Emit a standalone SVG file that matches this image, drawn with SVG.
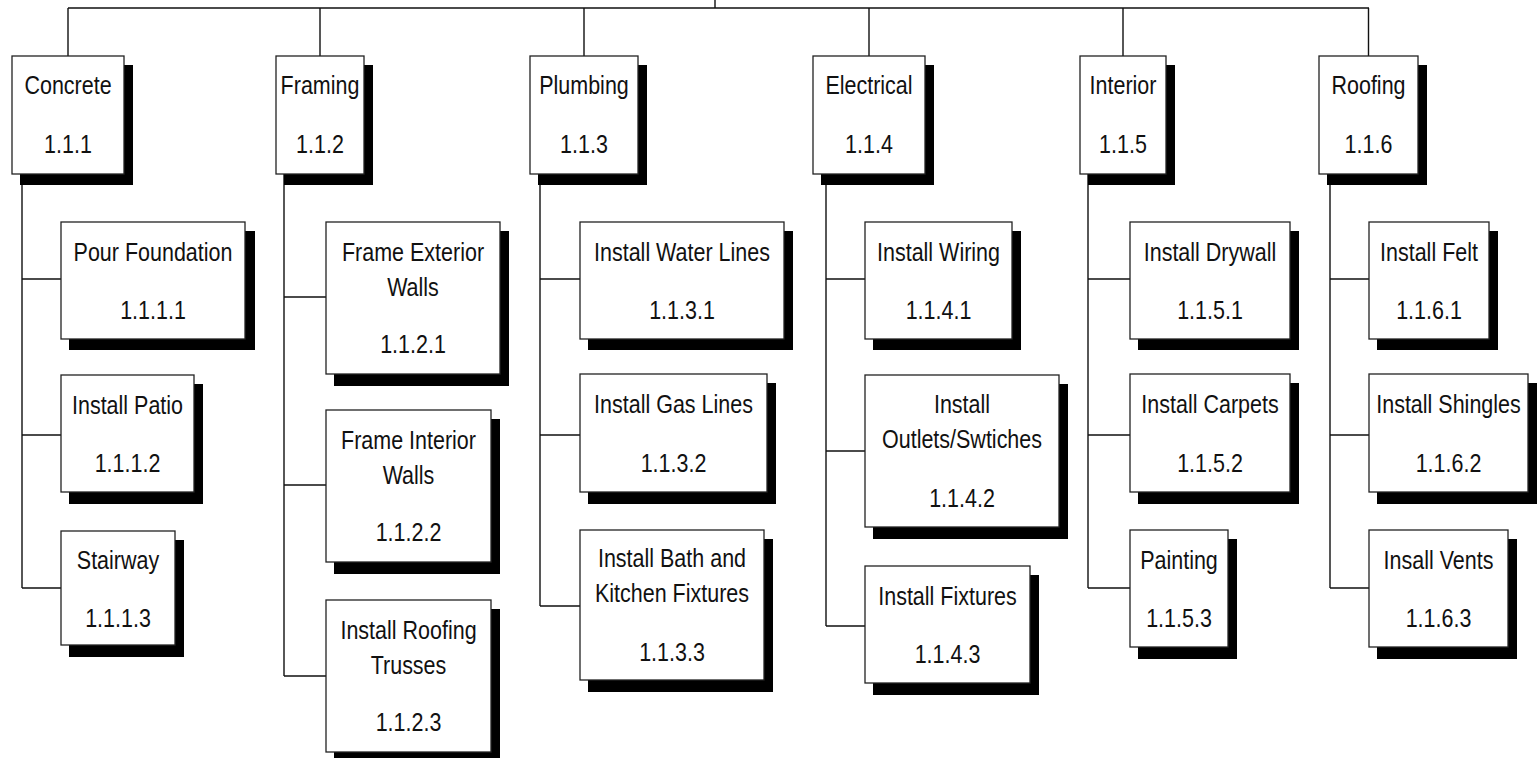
<svg xmlns="http://www.w3.org/2000/svg" width="1537" height="758" viewBox="0 0 1537 758">
<style>
.c{fill:none;stroke:#111;stroke-width:1.4}
.s{fill:#000}
.b{fill:#fff;stroke:#222;stroke-width:1.3}
text{font-family:"Liberation Sans",Arial,sans-serif;font-size:21.5px;fill:#111;text-anchor:middle}
</style>
<rect width="1537" height="758" fill="#fff"/>
<g id="connectors">
<path class="c" d="M715 0V8M68 8H1369M68 8V56M320 8V56M584 8V56M869 8V56M1123 8V56M1368.5 8V56"/>
<path class="c" d="M22 174V588M22 279H61M22 435H61M22 588H61"/>
<path class="c" d="M284 174V676M284 297H326M284 485H326M284 676H326"/>
<path class="c" d="M540 174V606M540 279H580M540 435H580M540 606H580"/>
<path class="c" d="M826 174V626M826 279H865M826 451H865M826 626H865"/>
<path class="c" d="M1088 174V588M1088 279H1130M1088 435H1130M1088 588H1130"/>
<path class="c" d="M1330 174V588M1330 279H1369M1330 435H1369M1330 588H1369"/>
</g>
<g id="n111"><rect class="s" x="20" y="65" width="113" height="120"/><rect class="b" x="12" y="56" width="112" height="118"/><text transform="translate(68 94) scale(1 1.18)">Concrete</text><text transform="translate(68 153) scale(1 1.18)">1.1.1</text></g>
<g id="n112"><rect class="s" x="284" y="65" width="89" height="120"/><rect class="b" x="276" y="56" width="88" height="118"/><text transform="translate(320 94) scale(1 1.18)">Framing</text><text transform="translate(320 153) scale(1 1.18)">1.1.2</text></g>
<g id="n113"><rect class="s" x="538" y="65" width="109" height="120"/><rect class="b" x="530" y="56" width="108" height="118"/><text transform="translate(584 94) scale(1 1.18)">Plumbing</text><text transform="translate(584 153) scale(1 1.18)">1.1.3</text></g>
<g id="n114"><rect class="s" x="821" y="65" width="113" height="120"/><rect class="b" x="813" y="56" width="112" height="118"/><text transform="translate(869 94) scale(1 1.18)">Electrical</text><text transform="translate(869 153) scale(1 1.18)">1.1.4</text></g>
<g id="n115"><rect class="s" x="1088" y="65" width="87" height="120"/><rect class="b" x="1080" y="56" width="86" height="118"/><text transform="translate(1123 94) scale(1 1.18)">Interior</text><text transform="translate(1123 153) scale(1 1.18)">1.1.5</text></g>
<g id="n116"><rect class="s" x="1327" y="65" width="100" height="120"/><rect class="b" x="1319" y="56" width="99" height="118"/><text transform="translate(1368.5 94) scale(1 1.18)">Roofing</text><text transform="translate(1368.5 153) scale(1 1.18)">1.1.6</text></g>

<g id="n1111"><rect class="s" x="69" y="231" width="186" height="119"/><rect class="b" x="61" y="222" width="184" height="117"/><text transform="translate(153 261) scale(1 1.18)">Pour Foundation</text><text transform="translate(153 319) scale(1 1.18)">1.1.1.1</text></g>
<g id="n1112"><rect class="s" x="69" y="384" width="134" height="120"/><rect class="b" x="61" y="375" width="133" height="117"/><text transform="translate(127.5 414) scale(1 1.18)">Install Patio</text><text transform="translate(127.5 472) scale(1 1.18)">1.1.1.2</text></g>
<g id="n1113"><rect class="s" x="69" y="540" width="115" height="117"/><rect class="b" x="61" y="531" width="114" height="114"/><text transform="translate(118 569) scale(1 1.18)">Stairway</text><text transform="translate(118 627) scale(1 1.18)">1.1.1.3</text></g>

<g id="n1121"><rect class="s" x="334" y="231" width="175" height="155"/><rect class="b" x="326" y="222" width="174" height="152"/><text transform="translate(413 261) scale(1 1.18)">Frame Exterior</text><text transform="translate(413 296) scale(1 1.18)">Walls</text><text transform="translate(413 353) scale(1 1.18)">1.1.2.1</text></g>
<g id="n1122"><rect class="s" x="334" y="419" width="166" height="155"/><rect class="b" x="326" y="410" width="165" height="152"/><text transform="translate(408.5 449) scale(1 1.18)">Frame Interior</text><text transform="translate(408.5 484) scale(1 1.18)">Walls</text><text transform="translate(408.5 541) scale(1 1.18)">1.1.2.2</text></g>
<g id="n1123"><rect class="s" x="334" y="609" width="166" height="155"/><rect class="b" x="326" y="600" width="165" height="152"/><text transform="translate(408.5 639) scale(1 1.18)">Install Roofing</text><text transform="translate(408.5 674) scale(1 1.18)">Trusses</text><text transform="translate(408.5 731) scale(1 1.18)">1.1.2.3</text></g>

<g id="n1131"><rect class="s" x="588" y="231" width="205" height="119"/><rect class="b" x="580" y="222" width="204" height="117"/><text transform="translate(682 261) scale(1 1.18)">Install Water Lines</text><text transform="translate(682 319) scale(1 1.18)">1.1.3.1</text></g>
<g id="n1132"><rect class="s" x="588" y="383" width="188" height="121"/><rect class="b" x="580" y="374" width="187" height="118"/><text transform="translate(673.5 413) scale(1 1.18)">Install Gas Lines</text><text transform="translate(673.5 472) scale(1 1.18)">1.1.3.2</text></g>
<g id="n1133"><rect class="s" x="588" y="539" width="185" height="153"/><rect class="b" x="580" y="530" width="184" height="150"/><text transform="translate(672 567) scale(1 1.18)">Install Bath and</text><text transform="translate(672 602) scale(1 1.18)">Kitchen Fixtures</text><text transform="translate(672 661) scale(1 1.18)">1.1.3.3</text></g>

<g id="n1141"><rect class="s" x="873" y="231" width="148" height="119"/><rect class="b" x="865" y="222" width="147" height="117"/><text transform="translate(938.5 261) scale(1 1.18)">Install Wiring</text><text transform="translate(938.5 319) scale(1 1.18)">1.1.4.1</text></g>
<g id="n1142"><rect class="s" x="873" y="384" width="195" height="155"/><rect class="b" x="865" y="375" width="194" height="152"/><text transform="translate(962 413) scale(1 1.18)">Install</text><text transform="translate(962 448) scale(1 1.18)">Outlets/Swtiches</text><text transform="translate(962 507) scale(1 1.18)">1.1.4.2</text></g>
<g id="n1143"><rect class="s" x="873" y="575" width="166" height="120"/><rect class="b" x="865" y="566" width="165" height="117"/><text transform="translate(947.5 605) scale(1 1.18)">Install Fixtures</text><text transform="translate(947.5 663) scale(1 1.18)">1.1.4.3</text></g>

<g id="n1151"><rect class="s" x="1138" y="231" width="161" height="119"/><rect class="b" x="1130" y="222" width="160" height="117"/><text transform="translate(1210 261) scale(1 1.18)">Install Drywall</text><text transform="translate(1210 319) scale(1 1.18)">1.1.5.1</text></g>
<g id="n1152"><rect class="s" x="1138" y="383" width="161" height="121"/><rect class="b" x="1130" y="374" width="160" height="118"/><text transform="translate(1210 413) scale(1 1.18)">Install Carpets</text><text transform="translate(1210 472) scale(1 1.18)">1.1.5.2</text></g>
<g id="n1153"><rect class="s" x="1138" y="539" width="99" height="120"/><rect class="b" x="1130" y="530" width="98" height="117"/><text transform="translate(1179 569) scale(1 1.18)">Painting</text><text transform="translate(1179 627) scale(1 1.18)">1.1.5.3</text></g>

<g id="n1161"><rect class="s" x="1377" y="231" width="121" height="119"/><rect class="b" x="1369" y="222" width="120" height="117"/><text transform="translate(1429 261) scale(1 1.18)">Install Felt</text><text transform="translate(1429 319) scale(1 1.18)">1.1.6.1</text></g>
<g id="n1162"><rect class="s" x="1377" y="383" width="160" height="121"/><rect class="b" x="1369" y="374" width="159" height="118"/><text transform="translate(1448.5 413) scale(1 1.18)">Install Shingles</text><text transform="translate(1448.5 472) scale(1 1.18)">1.1.6.2</text></g>
<g id="n1163"><rect class="s" x="1377" y="539" width="140" height="120"/><rect class="b" x="1369" y="530" width="139" height="117"/><text transform="translate(1438.5 569) scale(1 1.18)">Insall Vents</text><text transform="translate(1438.5 627) scale(1 1.18)">1.1.6.3</text></g>
</svg>
